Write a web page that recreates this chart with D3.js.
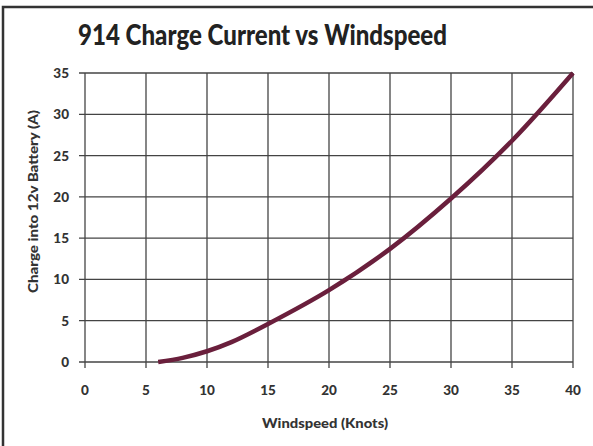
<!DOCTYPE html>
<html><head><meta charset="utf-8">
<script src="https://cdn.jsdelivr.net/npm/d3@7"></script>
<style>body{margin:0;background:#fff}svg{display:block}</style>
</head><body>
<script>
const windspeed = [6, 8, 10, 12, 15, 20, 25, 30, 35, 40];
const current   = [0, 0.5, 1.3, 2.4, 4.6, 8.7, 13.7, 19.8, 26.8, 35];
const xTicks = [0,5,10,15,20,25,30,35,40];
const yTicks = [0,5,10,15,20,25,30,35];
const title = "914 Charge Current vs Windspeed";
const xLabel = "Windspeed (Knots)";
const yLabel = "Charge into 12v Battery (A)";

const W = 593, H = 446;
const svg = d3.select("body").append("svg").attr("width", W).attr("height", H);
svg.append("rect").attr("width", W).attr("height", H).attr("fill", "#fff");
svg.append("path").attr("d", `M3,${H} L3,7 L${W},7`).attr("fill","none").attr("stroke","#333").attr("stroke-width",2.5);

const m = {l:85, r:573, t:73, b:362};
const x = d3.scaleLinear().domain([0,40]).range([m.l, m.r]);
const y = d3.scaleLinear().domain([0,35]).range([m.b, m.t]);
const font = "Lato, 'Open Sans', sans-serif";

const g = svg.append("g");
g.selectAll(".vx").data(xTicks).join("line")
  .attr("x1", d=>x(d)).attr("x2", d=>x(d)).attr("y1", m.t).attr("y2", m.b+6)
  .attr("stroke","#444").attr("stroke-width",1.3);
g.selectAll(".hy").data(yTicks).join("line")
  .attr("y1", d=>y(d)).attr("y2", d=>y(d)).attr("x1", m.l-6).attr("x2", m.r)
  .attr("stroke","#444").attr("stroke-width",1.3);

svg.append("g").selectAll("text").data(xTicks).join("text")
  .attr("x", d=>x(d)).attr("y", m.b+33).attr("text-anchor","middle")
  .attr("font-family",font).attr("font-weight","900").attr("font-size",13.5).attr("fill","#333")
  .text(d=>d);
svg.append("g").selectAll("text").data(yTicks).join("text")
  .attr("x", m.l-16).attr("y", d=>y(d)+5).attr("text-anchor","end")
  .attr("font-family",font).attr("font-weight","900").attr("font-size",13.5).attr("fill","#333")
  .text(d=>d);

const pts = windspeed.map((w,i)=>[w,current[i]]);
svg.append("path").datum(pts)
  .attr("d", d3.line().x(d=>x(d[0])).y(d=>y(d[1])).curve(d3.curveCatmullRom.alpha(0.5)))
  .attr("fill","none").attr("stroke","#6a1f3c").attr("stroke-width",4.5).attr("stroke-linecap","butt");

svg.append("text").attr("x", 78).attr("y", 45)
  .attr("textLength", 369).attr("lengthAdjust","spacingAndGlyphs")
  .attr("font-family",font).attr("font-weight","900").attr("font-size",28).attr("fill","#222")
  .text(title);
svg.append("text").attr("x", 262).attr("y", 428)
  .attr("textLength", 126).attr("lengthAdjust","spacingAndGlyphs")
  .attr("font-family",font).attr("font-weight","900").attr("font-size",14).attr("fill","#333")
  .text(xLabel);
svg.append("text").attr("transform", `translate(38,293) rotate(-90)`)
  .attr("textLength", 183).attr("lengthAdjust","spacingAndGlyphs")
  .attr("font-family",font).attr("font-weight","900").attr("font-size",14).attr("fill","#333")
  .text(yLabel);
</script>
</body></html>
